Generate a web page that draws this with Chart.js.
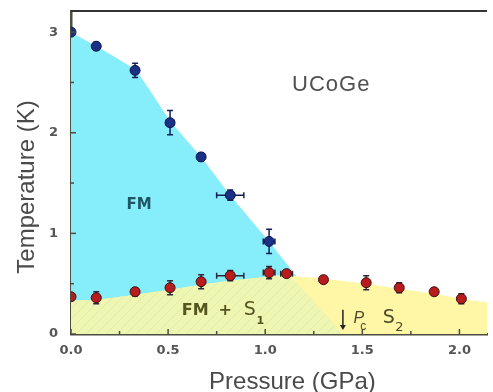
<!DOCTYPE html>
<html>
<head>
<meta charset="utf-8">
<script src="https://cdn.jsdelivr.net/npm/chart.js@4"></script>
<style>
  html, body { margin: 0; padding: 0; background: #fff; }
  #wrap { width: 493px; height: 392px; }
</style>
</head>
<body>
<div id="wrap"><canvas id="phase"></canvas></div>
<script>
// UCoGe phase diagram
const fmP    = [0.00, 0.13, 0.33, 0.51, 0.67, 0.82, 1.02];
const fmT    = [3.00, 2.86, 2.62, 2.10, 1.76, 1.38, 0.92];
const fmErrT = [0.00, 0.04, 0.07, 0.12, 0.04, 0.05, 0.12];
const fmErrP = [0.00, 0.00, 0.00, 0.02, 0.00, 0.07, 0.03];

const scP    = [0.00, 0.13, 0.33, 0.51, 0.67, 0.82, 1.02, 1.11, 1.30, 1.52, 1.69, 1.87, 2.01, 2.17];
const scT    = [0.37, 0.36, 0.42, 0.46, 0.52, 0.58, 0.61, 0.60, 0.54, 0.51, 0.46, 0.42, 0.35, 0.30];
const scErrT = [0.00, 0.06, 0.04, 0.07, 0.07, 0.05, 0.06, 0.00, 0.00, 0.07, 0.05, 0.00, 0.05, 0.00];
const scErrP = [0.00, 0.00, 0.00, 0.00, 0.00, 0.07, 0.03, 0.03, 0.00, 0.00, 0.00, 0.00, 0.00, 0.00];

// region boundaries
const fmEdgeP = [0.00, 0.13, 0.33, 0.51, 0.67, 0.82, 1.02, 1.17];
const fmEdgeT = [3.00, 2.86, 2.62, 2.12, 1.76, 1.38, 0.92, 0.55];
const scEdgeP = [0.00, 0.13, 0.33, 0.51, 0.67, 0.82, 1.02, 1.12, 1.30, 1.52, 1.69, 1.87, 2.01, 2.16];
const scEdgeT = [0.33, 0.34, 0.39, 0.44, 0.49, 0.53, 0.57, 0.58, 0.55, 0.50, 0.45, 0.40, 0.35, 0.31];
const s1EdgeP = [0.00, 0.13, 0.33, 0.51, 0.67, 0.82, 1.02, 1.12, 1.40];
const s1EdgeT = [0.33, 0.34, 0.39, 0.44, 0.49, 0.53, 0.57, 0.58, 0.00];

const xTicks = [0, 0.5, 1.0, 1.5, 2.0];
const yTicks = [0, 1, 2, 3];
const pc = 1.40;

const pts = (xs, ys) => xs.map((x, i) => ({ x: x, y: ys[i] }));

function hatch() {
    const c = document.createElement('canvas');
    c.width = 10; c.height = 10;
    const g = c.getContext('2d');
    g.fillStyle = '#eef6b2';
    g.fillRect(0, 0, 10, 10);
    g.strokeStyle = '#dcedac';
    g.lineWidth = 1;
    g.beginPath();
    g.moveTo(0, 10); g.lineTo(10, 0);
    g.moveTo(-1, 1); g.lineTo(1, -1);
    g.moveTo(9, 11); g.lineTo(11, 9);
    g.stroke();
    return g.createPattern(c, 'repeat');
}

const axisCol = '#4d4d40';
const textCol = '#555';
const sans = '"Liberation Sans", Arial, sans-serif';
const wide = '"DejaVu Sans", sans-serif';

const decor = {
    id: 'decor',
    beforeDatasetDraw(chart, args) {
        const ds = chart.data.datasets[args.index];
        if (!ds.errT) return;
        const x = chart.scales.x, y = chart.scales.y, ctx = chart.ctx;
        ctx.save();
        ctx.strokeStyle = ds.errColor;
        ctx.lineWidth = 1.5;
        ds.data.forEach((p, i) => {
            const px = x.getPixelForValue(p.x), py = y.getPixelForValue(p.y);
            if (ds.errT[i]) {
                const a = y.getPixelForValue(p.y + ds.errT[i]), b = y.getPixelForValue(p.y - ds.errT[i]);
                ctx.beginPath();
                ctx.moveTo(px, a); ctx.lineTo(px, b);
                ctx.moveTo(px - 3, a); ctx.lineTo(px + 3, a);
                ctx.moveTo(px - 3, b); ctx.lineTo(px + 3, b);
                ctx.stroke();
            }
            if (ds.errP[i]) {
                const a = x.getPixelForValue(p.x - ds.errP[i]), b = x.getPixelForValue(p.x + ds.errP[i]);
                ctx.beginPath();
                ctx.moveTo(a, py); ctx.lineTo(b, py);
                ctx.moveTo(a, py - 3); ctx.lineTo(a, py + 3);
                ctx.moveTo(b, py - 3); ctx.lineTo(b, py + 3);
                ctx.stroke();
            }
        });
        ctx.restore();
    },
    afterDraw(chart) {
        const x = chart.scales.x, y = chart.scales.y, ctx = chart.ctx, a = chart.chartArea;
        ctx.save();
        // top frame line
        ctx.strokeStyle = '#333';
        ctx.lineWidth = 2;
        ctx.beginPath();
        ctx.moveTo(a.left, a.top); ctx.lineTo(a.right, a.top);
        ctx.stroke();
        // inward ticks
        ctx.strokeStyle = axisCol;
        ctx.lineWidth = 1.5;
        for (let v = 0; v <= 2.1; v += 0.25) {
            const px = x.getPixelForValue(v), len = (Math.round(v * 4) % 2 === 0) ? 5 : 3;
            ctx.beginPath(); ctx.moveTo(px, a.bottom); ctx.lineTo(px, a.bottom - len); ctx.stroke();
        }
        for (let v = 0; v <= 3.1; v += 0.5) {
            const py = y.getPixelForValue(v), len = (Math.round(v * 2) % 2 === 0) ? 5 : 3;
            ctx.beginPath(); ctx.moveTo(a.left, py); ctx.lineTo(a.left + len, py); ctx.stroke();
        }

        // labels inside the plot
        ctx.textBaseline = 'middle';
        ctx.textAlign = 'center';
        ctx.fillStyle = '#505050';
        ctx.font = '22px ' + sans;
        ctx.letterSpacing = '1px';
        ctx.fillText('UCoGe', x.getPixelForValue(1.34), y.getPixelForValue(2.48));
        ctx.letterSpacing = '0px';

        ctx.font = 'bold 15px ' + wide;
        ctx.fillStyle = '#1f5564';
        ctx.fillText('FM', x.getPixelForValue(0.35), y.getPixelForValue(1.28));

        ctx.fillStyle = '#55551f';
        ctx.textAlign = 'left';
        const fy = y.getPixelForValue(0.23);
        ctx.font = 'bold 16px ' + wide;
        ctx.fillText('FM', x.getPixelForValue(0.57), fy);
        ctx.fillText('+', x.getPixelForValue(0.76), fy);
        ctx.font = '19px ' + wide;
        ctx.fillText('S', x.getPixelForValue(0.89), fy - 1);
        ctx.font = 'bold 11px ' + wide;
        ctx.fillText('1', x.getPixelForValue(0.955), fy + 10);

        ctx.fillStyle = '#4a4a2a';
        ctx.font = 'italic 16px ' + sans;
        const py = y.getPixelForValue(0.15);
        ctx.fillText('P', x.getPixelForValue(1.455), py);
        ctx.font = '12px ' + sans;
        ctx.fillText('c', x.getPixelForValue(1.49), py + 8);
        ctx.font = '19px ' + wide;
        ctx.fillText('S', x.getPixelForValue(1.605), py - 1);
        ctx.font = '13px ' + wide;
        ctx.fillText('2', x.getPixelForValue(1.67), py + 9);

        // Pc arrow
        const ax = x.getPixelForValue(pc), y0 = y.getPixelForValue(0.24), y1 = y.getPixelForValue(0.04);
        ctx.strokeStyle = '#222';
        ctx.fillStyle = '#222';
        ctx.lineWidth = 1.5;
        ctx.beginPath(); ctx.moveTo(ax, y0); ctx.lineTo(ax, y1 - 5); ctx.stroke();
        ctx.beginPath(); ctx.moveTo(ax - 3, y1 - 5); ctx.lineTo(ax + 3, y1 - 5); ctx.lineTo(ax, y1); ctx.closePath(); ctx.fill();

        // axis titles
        ctx.fillStyle = '#4a4a4a';
        ctx.textAlign = 'center';
        ctx.textBaseline = 'alphabetic';
        ctx.font = '24px ' + sans;
        ctx.fillText('Pressure (GPa)', x.getPixelForValue(1.14), 389);
        ctx.translate(34, 187);
        ctx.rotate(-Math.PI / 2);
        ctx.fillText('Temperature (K)', 0, 0);
        ctx.restore();
    }
};

const region = (xs, ys, color, order) => ({
    type: 'line',
    data: pts(xs, ys),
    showLine: true,
    borderWidth: 0,
    borderColor: 'rgba(0,0,0,0)',
    pointRadius: 0,
    tension: 0.2,
    fill: 'origin',
    backgroundColor: color,
    order: order
});

const tickFont = { family: wide, size: 13, weight: 'bold' };

new Chart(document.getElementById('phase'), {
    type: 'scatter',
    data: {
        datasets: [
            region(fmEdgeP, fmEdgeT, '#86eefa', 5),
            region(scEdgeP, scEdgeT, '#fff7a6', 4),
            region(s1EdgeP, s1EdgeT, hatch(), 3),
            {
                data: pts(fmP, fmT),
                errT: fmErrT, errP: fmErrP, errColor: '#14205a',
                pointRadius: 5, pointHoverRadius: 5,
                backgroundColor: '#1c2f86', borderColor: '#0e1745', borderWidth: 1,
                order: 1
            },
            {
                data: pts(scP, scT),
                errT: scErrT, errP: scErrP, errColor: '#2a2a3a',
                pointRadius: 5, pointHoverRadius: 5,
                backgroundColor: '#b81c1c', borderColor: '#3a1010', borderWidth: 1,
                order: 0
            }
        ]
    },
    options: {
        responsive: true,
        maintainAspectRatio: false,
        animation: false,
        layout: { padding: { top: 11, left: 0, right: 0, bottom: 0 } },
        plugins: { legend: { display: false }, tooltip: { enabled: false } },
        scales: {
            x: {
                type: 'linear',
                min: 0, max: 2.142,
                afterFit: s => { s.height = 58; s.paddingLeft = 0; s.paddingRight = 0; },
                afterBuildTicks: s => { s.ticks = xTicks.map(v => ({ value: v })); },
                grid: { display: false, drawTicks: false },
                border: { display: true, color: axisCol, width: 2.5 },
                ticks: {
                    padding: 9,
                    color: textCol,
                    font: tickFont,
                    callback: v => v.toFixed(1)
                }
            },
            y: {
                type: 'linear',
                min: 0, max: 3.21,
                afterFit: s => { s.width = 71; s.paddingTop = 0; s.paddingBottom = 0; },
                afterBuildTicks: s => { s.ticks = yTicks.map(v => ({ value: v })); },
                grid: { display: false, drawTicks: false },
                border: { display: true, color: axisCol, width: 2.5 },
                ticks: {
                    padding: 13,
                    color: textCol,
                    font: tickFont,
                    callback: v => String(v)
                }
            }
        }
    },
    plugins: [decor]
});
</script>
</body>
</html>
